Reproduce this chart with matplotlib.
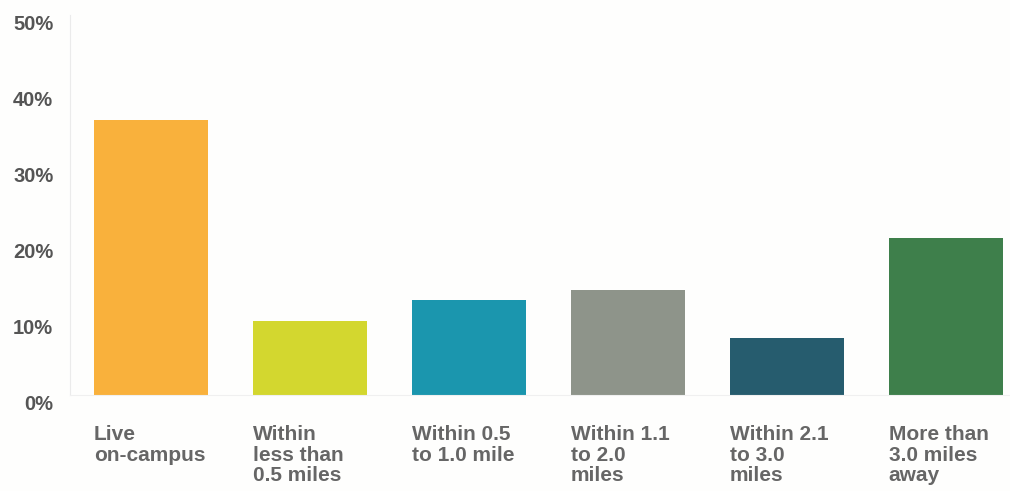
import matplotlib
matplotlib.use("Agg")
import matplotlib.pyplot as plt
import matplotlib.transforms as mtransforms
from matplotlib.ticker import FuncFormatter

categories = ["Live\non-campus", "Within\nless than\n0.5 miles", "Within 0.5\nto 1.0 mile",
              "Within 1.1\nto 2.0\nmiles", "Within 2.1\nto 3.0\nmiles", "More than\n3.0 miles\naway"]
values = [36.2, 9.7, 12.5, 13.8, 7.5, 20.7]
colors = ["#F9B13C", "#D3D72F", "#1B96AE", "#8E948A", "#265C6E", "#3E7F4B"]
yticks = [0, 10, 20, 30, 40, 50]

plt.rcParams['font.family'] = ['Liberation Sans', 'DejaVu Sans']

fig = plt.figure(figsize=(10.1, 4.91), dpi=100)
fig.patch.set_facecolor("#FEFEFD")
ax = fig.add_axes([70/1010, 1-395/491, 1-70/1010, (395-15)/491])
ax.set_facecolor("#FEFEFD")

x = list(range(len(values)))
w = 0.72
ax.bar(x, values, width=w, color=colors, zorder=2)
ax.set_xlim((70-151)/159, (1010-151)/159)
ax.set_ylim(0, 50)
ax.set_yticks(yticks)
ax.yaxis.set_major_formatter(FuncFormatter(lambda v, p: f"{v:.0f}%"))
ax.tick_params(axis='y', length=0, pad=12, labelsize=14.5, labelcolor="#555555")
for lab in ax.get_yticklabels():
    lab.set_fontweight('bold')
    lab.set_transform(lab.get_transform() + mtransforms.ScaledTranslation(0, -7/100, fig.dpi_scale_trans))
ax.set_xticks([])
for s in ["top", "right"]:
    ax.spines[s].set_visible(False)
ax.spines["left"].set_color("#EBEBEB")
ax.spines["bottom"].set_color("#F0F0F0")

for i, c in enumerate(categories):
    ax.annotate(c, xy=(i - w/2, 0), xycoords=('data', 'axes fraction'),
                xytext=(0, -21.5), textcoords='offset points', ha='left', va='top',
                fontsize=15, fontweight='bold', color="#666666", linespacing=1.12)

fig.savefig("out.png", dpi=100, facecolor=fig.get_facecolor())
